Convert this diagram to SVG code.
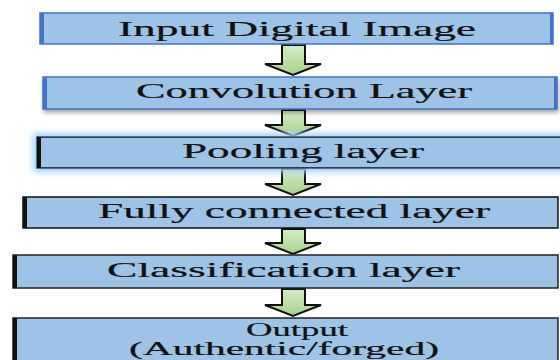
<svg xmlns="http://www.w3.org/2000/svg" width="560" height="360" viewBox="0 0 560 360">
<defs>
<style>
.box{fill:#9DC3E6;}
.lbl{font-family:"Liberation Serif","Times New Roman",serif;font-size:21px;fill:#111;stroke:#111;stroke-width:0.2;}
.sm{font-size:18px;}
.arr{fill:url(#g);stroke:#111;stroke-width:2;stroke-linejoin:miter;}
</style>
<linearGradient id="g" x1="0" y1="0" x2="0" y2="1">
<stop offset="0" stop-color="#D6EBC6"/>
<stop offset="1" stop-color="#A9D18E"/>
</linearGradient>
<filter id="sh" x="-5%" y="-20%" width="110%" height="160%">
<feGaussianBlur in="SourceAlpha" stdDeviation="2"/>
<feOffset dx="1" dy="3"/>
<feComponentTransfer><feFuncA type="linear" slope="0.35"/></feComponentTransfer>
<feMerge><feMergeNode/><feMergeNode in="SourceGraphic"/></feMerge>
</filter>
<filter id="glow" x="-5%" y="-30%" width="110%" height="160%">
<feMorphology in="SourceAlpha" operator="dilate" radius="3" result="d"/>
<feGaussianBlur in="d" stdDeviation="3" result="b"/>
<feFlood flood-color="#9ED0FF"/>
<feComposite in2="b" operator="in"/>
<feMerge><feMergeNode/><feMergeNode in="SourceGraphic"/></feMerge>
</filter>
</defs>
<rect width="560" height="360" fill="#fff"/>

<g id="connectors">
<polygon class="arr" points="282,45 305,45 305,64 321,64 293,75 265,64 282,64"/>
<polygon class="arr" points="282,110 305,110 305,125 321,125 293,136 265,125 282,125"/>
<polygon class="arr" points="282,169 305,169 305,184 321,184 293,195 265,184 282,184"/>
<polygon class="arr" points="282,229 305,229 305,243 321,243 293,254 265,243 282,243"/>
<polygon class="arr" points="282,289 305,289 305,305 321,305 293,316 265,305 282,305"/>
</g>

<g id="n1">
<rect class="box" x="40" y="13" width="513" height="31" stroke="#4472C4" stroke-width="1.5"/>
<rect x="40" y="13" width="4" height="31" fill="#4472C4"/>
<rect x="550" y="13" width="3" height="31" fill="#4472C4"/>
<text class="lbl" x="118" y="36" textLength="358" lengthAdjust="spacingAndGlyphs">Input Digital Image</text>
</g>

<g id="n2">
<rect class="box" x="43" y="77" width="514" height="32" stroke="#4472C4" stroke-width="1.5" filter="url(#sh)"/>
<rect x="43" y="77" width="4" height="32" fill="#4472C4"/>
<rect x="554" y="77" width="3" height="32" fill="#4472C4"/>
<text class="lbl" x="136" y="98" textLength="336" lengthAdjust="spacingAndGlyphs">Convolution Layer</text>
</g>

<g id="n3">
<rect class="box" x="37" y="137" width="530" height="31" stroke="#111" stroke-width="1.5" filter="url(#glow)"/>
<rect x="37" y="137" width="4" height="31" fill="#111"/>
<text class="lbl" x="182" y="158" textLength="242" lengthAdjust="spacingAndGlyphs">Pooling layer</text>
</g>

<g id="n4">
<rect class="box" x="23" y="197" width="535" height="31" stroke="#111" stroke-width="1.5"/>
<rect x="23" y="197" width="4" height="31" fill="#111"/>
<text class="lbl" x="98" y="218" textLength="392" lengthAdjust="spacingAndGlyphs">Fully connected layer</text>
</g>

<g id="n5">
<rect class="box" x="13" y="255" width="545" height="33" stroke="#222" stroke-width="1.5"/>
<rect x="13" y="255" width="4" height="33" fill="#111"/>
<text class="lbl" x="107" y="277" textLength="353" lengthAdjust="spacingAndGlyphs">Classification layer</text>
</g>

<g id="n6">
<rect class="box" x="13" y="318" width="545" height="50" stroke="#222" stroke-width="1.5"/>
<rect x="13" y="318" width="4" height="50" fill="#111"/>
<text class="lbl sm" x="246" y="336" textLength="102" lengthAdjust="spacingAndGlyphs">Output</text>
<text class="lbl sm" x="129" y="355" textLength="310" lengthAdjust="spacingAndGlyphs">(Authentic/forged)</text>
</g>
</svg>
